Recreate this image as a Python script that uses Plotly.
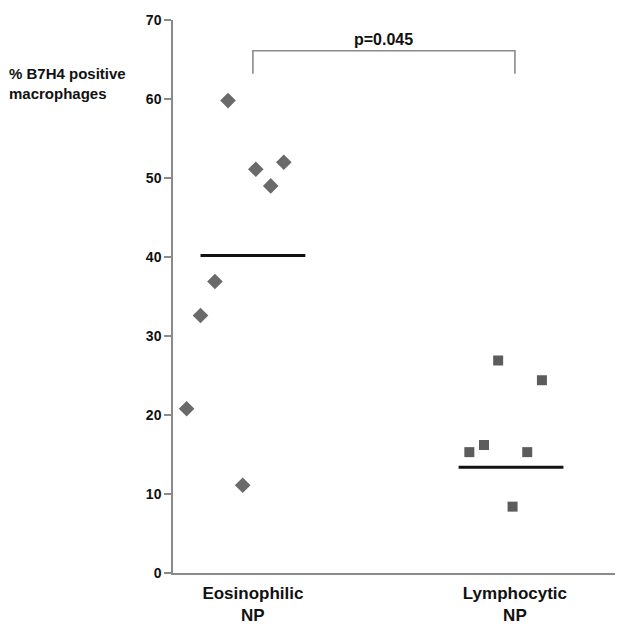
import plotly.graph_objects as go

categories = ["Eosinophilic<br>NP", "Lymphocytic<br>NP"]
eos_values = [59.8, 51.1, 49.0, 52.0, 36.9, 32.6, 20.8, 11.1]
eos_jitter = [-0.095, 0.011, 0.068, 0.118, -0.145, -0.200, -0.253, -0.039]
lym_values = [26.9, 24.4, 15.3, 16.2, 15.3, 8.4]
lym_jitter = [-0.064, 0.103, -0.174, -0.118, 0.047, -0.009]
group_means = [40.2, 13.4]
y_ticks = [0, 10, 20, 30, 40, 50, 60, 70]
p_text = "p=0.045"
y_title = "% B7H4 positive<br>macrophages"

FONT = "Arial, Liberation Sans, sans-serif"
cat_pos = [1, 2]

fig = go.Figure()

fig.add_trace(go.Scatter(
    x=[cat_pos[0] + j for j in eos_jitter], y=eos_values, mode="markers",
    marker=dict(symbol="diamond", size=12, color="#6a6a6a"),
    showlegend=False, hoverinfo="y"))
fig.add_trace(go.Scatter(
    x=[cat_pos[1] + j for j in lym_jitter], y=lym_values, mode="markers",
    marker=dict(symbol="square", size=10, color="#5c5c5c"),
    showlegend=False, hoverinfo="y"))

for c, m, off in zip(cat_pos, group_means, [0.0, -0.015]):
    fig.add_trace(go.Scatter(
        x=[c + off - 0.2, c + off + 0.2], y=[m, m], mode="lines",
        line=dict(color="#111111", width=3), showlegend=False, hoverinfo="skip"))

# significance bracket
fig.add_trace(go.Scatter(
    x=[cat_pos[0], cat_pos[0], cat_pos[1], cat_pos[1]],
    y=[63.2, 66.1, 66.1, 63.2], mode="lines",
    line=dict(color="#8a8a8a", width=1.6), showlegend=False, hoverinfo="skip"))

fig.add_annotation(x=(cat_pos[0] + cat_pos[1]) / 2, y=66.1, xref="x", yref="y",
                   text="<b>" + p_text + "</b>", showarrow=False,
                   yanchor="bottom", yshift=1,
                   font=dict(family=FONT, size=16, color="#111111"))

fig.add_annotation(x=-0.362, y=64.6, xref="paper", yref="y",
                   text="<b>" + y_title + "</b>", showarrow=False,
                   xanchor="left", yanchor="top", align="left",
                   font=dict(family=FONT, size=15, color="#111111"))

fig.update_layout(
    width=623, height=626,
    margin=dict(l=165, r=0, t=12, b=61),
    plot_bgcolor="white", paper_bgcolor="white",
    font=dict(family=FONT, color="#111111"),
    xaxis=dict(range=[0.695, 2.443], showgrid=False, zeroline=False,
               showline=True, linecolor="#8a8a8a", linewidth=1.5,
               tickvals=cat_pos, ticktext=["<b>" + c + "</b>" for c in categories],
               ticks="", ticklabelstandoff=4,
               tickfont=dict(family=FONT, size=17, color="#111111")),
    yaxis=dict(range=[0, 70], showgrid=False, zeroline=False,
               showline=True, linecolor="#8a8a8a", linewidth=1.5,
               tickvals=y_ticks, ticktext=["<b>%d</b>" % v for v in y_ticks],
               ticks="outside", ticklen=7, tickcolor="#8a8a8a", tickwidth=1.5,
               tickfont=dict(family=FONT, size=14, color="#111111")),
)

fig.write_html("out.html")
